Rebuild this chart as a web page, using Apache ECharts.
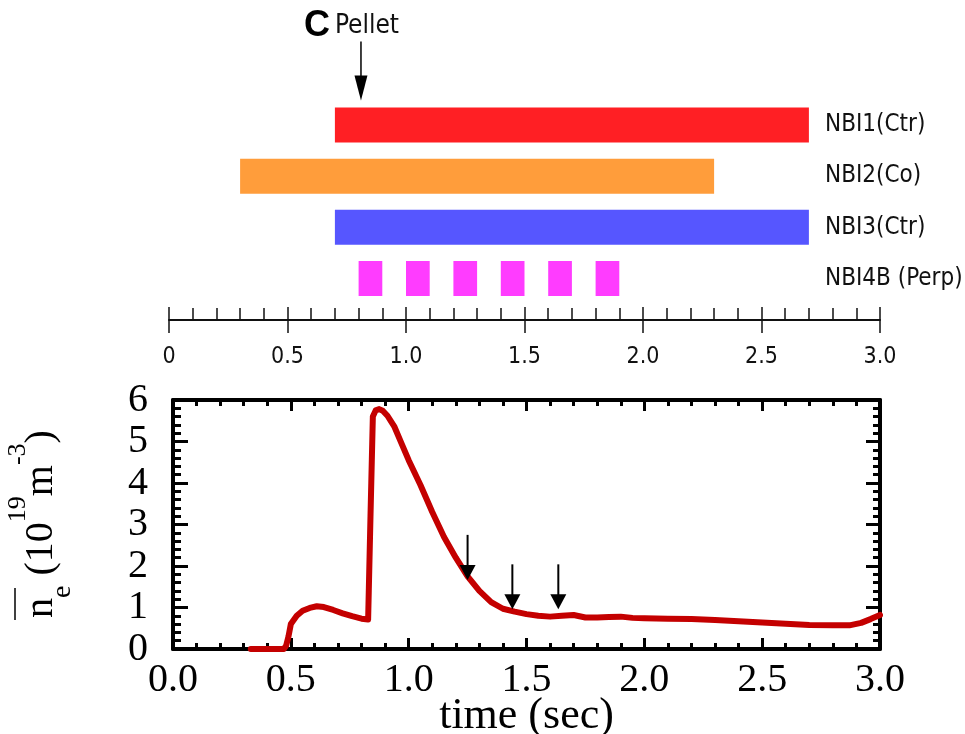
<!DOCTYPE html>
<html>
<head>
<meta charset="utf-8">
<script src="https://cdn.jsdelivr.net/npm/echarts@6/dist/echarts.min.js"></script>
<style>
  html, body { margin: 0; padding: 0; background: #fff; }
  #chart { width: 965px; height: 734px; }
</style>
</head>
<body>
<div id="chart"></div>
<script>
// Neutral beam injectors, one row each
const beamNames = ['NBI1(Ctr)', 'NBI2(Co)', 'NBI3(Ctr)', 'NBI4B (Perp)'];
const beamColors = ['#ff1f24', '#ff9d3b', '#5656ff', '#ff3cff'];
// Injection windows: [beam row, start (s), end (s)]
const beamPulses = [
  [0, 0.7, 2.7],
  [1, 0.3, 2.3],
  [2, 0.7, 2.7],
  [3, 0.8, 0.9], [3, 1.0, 1.1], [3, 1.2, 1.3], [3, 1.4, 1.5], [3, 1.6, 1.7], [3, 1.8, 1.9]
];
// Pellet injection time (s)
const pelletTime = [0.81];

// Line-averaged electron density, 10^19 m^-3
const densityTime = [0.33, 0.40, 0.47, 0.48, 0.49, 0.50, 0.525, 0.55, 0.58, 0.61, 0.64, 0.68, 0.72, 0.76, 0.80,
  0.828, 0.838, 0.848, 0.86, 0.875, 0.89, 0.91, 0.94, 0.97, 1.00, 1.05, 1.10, 1.15, 1.20, 1.25, 1.30, 1.35,
  1.40, 1.45, 1.50, 1.55, 1.60, 1.65, 1.70, 1.75, 1.80, 1.85, 1.90, 1.95, 2.00, 2.10, 2.20, 2.30, 2.40,
  2.50, 2.60, 2.70, 2.80, 2.87, 2.92, 2.96, 3.00];
const densityValue = [0, 0, 0, 0.08, 0.3, 0.6, 0.8, 0.92, 0.99, 1.03, 1.01, 0.94, 0.86, 0.79, 0.73,
  0.71, 3.2, 5.6, 5.75, 5.78, 5.74, 5.62, 5.35, 4.95, 4.55, 3.95, 3.3, 2.7, 2.2, 1.75, 1.4, 1.13,
  0.97, 0.9, 0.84, 0.8, 0.78, 0.8, 0.82, 0.76, 0.76, 0.77, 0.78, 0.75, 0.74, 0.73, 0.72, 0.70, 0.67,
  0.64, 0.61, 0.58, 0.57, 0.57, 0.63, 0.72, 0.82];

// Event markers on the density trace: time, arrow tail, arrow tip
const markerTimes = [1.25, 1.44, 1.635];
const markerTails = [2.75, 2.04, 2.04];
const markerTips = [1.66, 0.96, 0.96];

const sansNarrow = "'Liberation Sans Narrow', 'DejaVu Sans Condensed', 'Liberation Sans', Arial, sans-serif";
const serif = "'Liberation Serif', 'Times New Roman', serif";

const densityData = densityTime.map((t, i) => [t, densityValue[i]]);
const markerData = markerTimes.map((t, i) => [t, markerTails[i], markerTips[i]]);

const chart = echarts.init(document.getElementById('chart'), null, { renderer: 'canvas' });

const frameLine = { show: true, onZero: false, lineStyle: { color: '#000', width: 4 } };

const option = {
  backgroundColor: '#fff',
  animation: false,
  grid: [
    { left: 169, right: 85, top: 99.4, bottom: 429.9, outerBoundsMode: 'none', containLabel: false },
    { left: 173, right: 85, top: 400, bottom: 85, outerBoundsMode: 'none', containLabel: false }
  ],
  xAxis: [
    {
      gridIndex: 0, type: 'value', min: 0, max: 3, interval: 0.5, position: 'bottom', offset: 16,
      axisLine: { show: true, onZero: false, lineStyle: { color: '#111', width: 2 } },
      axisTick: { show: true, inside: true, length: 13, lineStyle: { color: '#111', width: 1.5 } },
      minorTick: { show: true, splitNumber: 5, length: 12, lineStyle: { color: '#111', width: 1.5 } },
      splitLine: { show: false },
      axisLabel: {
        margin: 25, color: '#111', fontFamily: sansNarrow, fontSize: 23,
        formatter: v => (v === 0 ? '0' : v.toFixed(1))
      }
    },
    {
      gridIndex: 0, type: 'value', min: 0, max: 3, interval: 0.5, position: 'bottom', offset: 16,
      axisLine: { show: false, onZero: false },
      axisTick: { show: true, inside: false, length: 13, lineStyle: { color: '#111', width: 1.5 } },
      splitLine: { show: false },
      axisLabel: { show: false }
    },
    {
      gridIndex: 1, type: 'value', min: 0, max: 3, interval: 0.5, position: 'bottom',
      axisLine: frameLine,
      axisTick: { show: true, inside: true, length: 11, lineStyle: { color: '#000', width: 3 } },
      minorTick: { show: true, splitNumber: 5, length: 6, lineStyle: { color: '#000', width: 3 } },
      splitLine: { show: false },
      axisLabel: {
        margin: 11, color: '#000', fontFamily: serif, fontSize: 40,
        formatter: v => v.toFixed(1)
      },
      name: 'time (sec)', nameLocation: 'middle', nameGap: 45, nameMoveOverlap: false,
      nameTextStyle: { color: '#000', fontFamily: serif, fontSize: 44 }
    },
    {
      gridIndex: 1, type: 'value', min: 0, max: 3, interval: 0.5, position: 'top',
      axisLine: frameLine,
      axisTick: { show: true, inside: true, length: 11, lineStyle: { color: '#000', width: 3 } },
      minorTick: { show: true, splitNumber: 5, length: 6, lineStyle: { color: '#000', width: 3 } },
      splitLine: { show: false },
      axisLabel: { show: false }
    }
  ],
  yAxis: [
    {
      gridIndex: 0, type: 'category', data: beamNames, inverse: true, position: 'right', offset: -55,
      axisLine: { show: false }, axisTick: { show: false }, splitLine: { show: false },
      axisLabel: { margin: 0, interval: 0, align: 'left', color: '#111', fontFamily: sansNarrow, fontSize: 24 }
    },
    {
      gridIndex: 1, type: 'value', min: 0, max: 6, interval: 1, position: 'left',
      axisLine: frameLine,
      axisTick: { show: true, inside: true, length: 15, lineStyle: { color: '#000', width: 3 } },
      minorTick: { show: true, splitNumber: 5, length: 8, lineStyle: { color: '#000', width: 3 } },
      splitLine: { show: false },
      axisLabel: { margin: 25, color: '#000', fontFamily: serif, fontSize: 40 }
    },
    {
      gridIndex: 1, type: 'value', min: 0, max: 6, interval: 1, position: 'right',
      axisLine: frameLine,
      axisTick: { show: true, inside: true, length: 14, lineStyle: { color: '#000', width: 3 } },
      minorTick: { show: true, splitNumber: 5, length: 7, lineStyle: { color: '#000', width: 3 } },
      splitLine: { show: false },
      axisLabel: { show: false }
    }
  ],
  graphic: [
    {
      // rotated y-axis title: line-averaged density with units
      type: 'group', x: 5, y: 524, rotation: Math.PI / 2,
      children: [
        {
          type: 'text', x: 0, y: 0,
          style: {
            text: '{m|n}{sub|e}{m| (10}{sup|19}{m|m}{sup|-3}{m|)}',
            align: 'center', verticalAlign: 'top',
            rich: {
              m: { fontFamily: serif, fontSize: 40, lineHeight: 72, verticalAlign: 'middle', fill: '#000' },
              sup: { fontFamily: serif, fontSize: 26, lineHeight: 24, verticalAlign: 'top', fill: '#000' },
              sub: { fontFamily: serif, fontSize: 28, lineHeight: 14, verticalAlign: 'bottom', fill: '#000' }
            }
          }
        },
        {
          type: 'line',
          shape: { x1: -96, y1: 10, x2: -64, y2: 10 },
          style: { stroke: '#000', lineWidth: 1.5 }
        }
      ]
    }
  ],
  series: [
    {
      type: 'custom', name: 'beams', xAxisIndex: 0, yAxisIndex: 0, silent: true,
      data: beamPulses, encode: { x: [1, 2], y: 0 },
      renderItem: (params, api) => {
        const row = api.value(0);
        const s = api.coord([api.value(1), row]);
        const e = api.coord([api.value(2), row]);
        const h = api.size([0, 1])[1] * 0.684;
        return {
          type: 'rect',
          shape: { x: s[0], y: s[1] - h / 2, width: e[0] - s[0], height: h },
          style: { fill: beamColors[row] }
        };
      }
    },
    {
      type: 'custom', name: 'pellet', xAxisIndex: 0, yAxisIndex: 0, silent: true,
      data: pelletTime.map(t => [t, 0]), encode: { x: 0, y: 1 },
      renderItem: (params, api) => {
        const p = api.coord([api.value(0), api.value(1)]);
        const h = api.size([0, 1])[1] * 0.684;
        const tipY = p[1] - h / 2 - 7;
        const x = p[0];
        return {
          type: 'group',
          children: [
            { type: 'line', shape: { x1: x, y1: tipY - 59, x2: x, y2: tipY - 20 }, style: { stroke: '#000', lineWidth: 1.5 } },
            { type: 'polygon', shape: { points: [[x - 6.5, tipY - 25], [x + 6.5, tipY - 25], [x, tipY]] }, style: { fill: '#000' } },
            { type: 'text', x: x + 6, y: tipY - 61, style: { text: 'Pellet', align: 'center', verticalAlign: 'bottom', fontFamily: sansNarrow, fontSize: 26, fill: '#111' } },
            { type: 'text', x: x - 31, y: tipY - 56, style: { text: 'C', align: 'right', verticalAlign: 'bottom', fontFamily: "'Liberation Sans', Arial, sans-serif", fontWeight: 'bold', fontSize: 36, fill: '#000' } }
          ]
        };
      }
    },
    {
      type: 'line', name: 'density', xAxisIndex: 2, yAxisIndex: 1,
      data: densityData, showSymbol: false, smooth: false,
      lineStyle: { color: '#c40000', width: 6, cap: 'round', join: 'round' },
      z: 3
    },
    {
      type: 'custom', name: 'markers', xAxisIndex: 2, yAxisIndex: 1, silent: true,
      data: markerData, encode: { x: 0, y: [1, 2] }, z: 4,
      renderItem: (params, api) => {
        const tail = api.coord([api.value(0), api.value(1)]);
        const tip = api.coord([api.value(0), api.value(2)]);
        const hw = 8, hh = 15;
        return {
          type: 'group',
          children: [
            { type: 'line', shape: { x1: tail[0], y1: tail[1], x2: tip[0], y2: tip[1] - hh + 1 }, style: { stroke: '#000', lineWidth: 2 } },
            { type: 'polygon', shape: { points: [[tip[0] - hw, tip[1] - hh], [tip[0] + hw, tip[1] - hh], [tip[0], tip[1]]] }, style: { fill: '#000' } }
          ]
        };
      }
    }
  ]
};

chart.setOption(option);
</script>
</body>
</html>
